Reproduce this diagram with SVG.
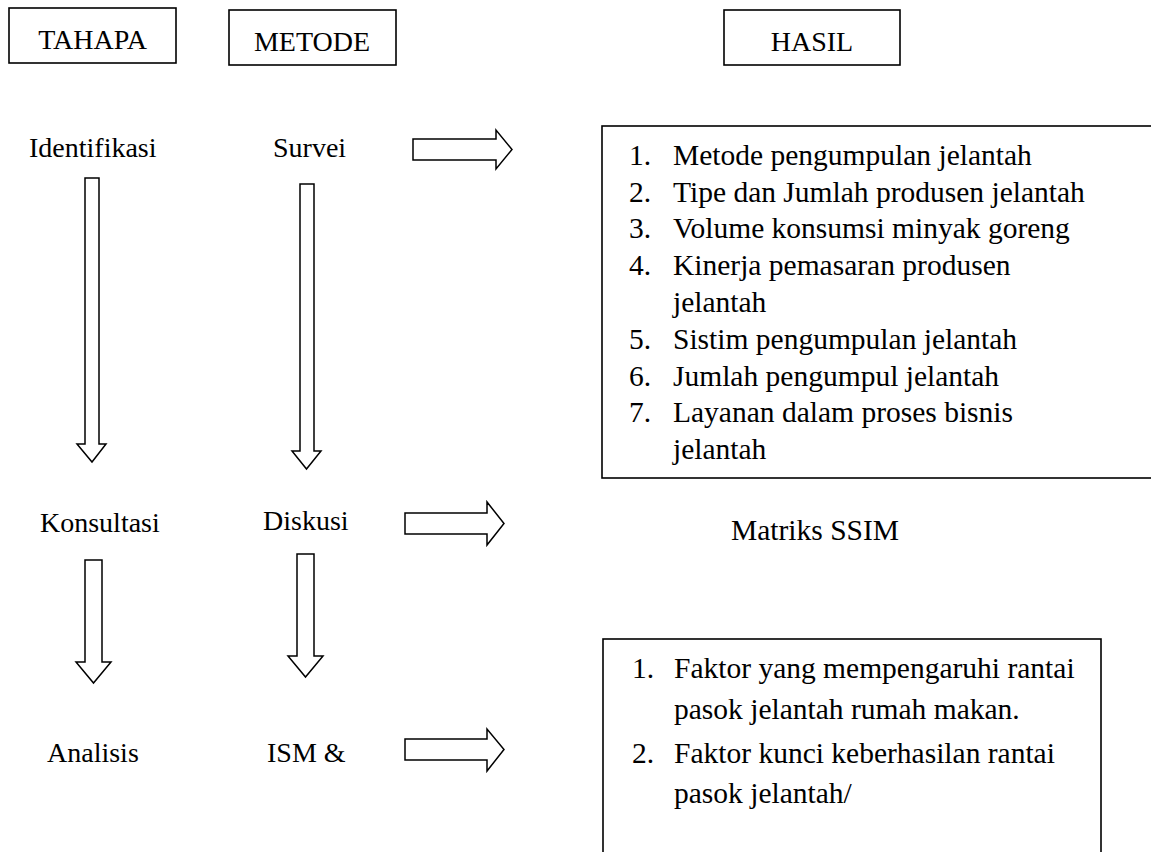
<svg xmlns="http://www.w3.org/2000/svg" width="1151" height="852" viewBox="0 0 1151 852">
<style>
text{font-family:"Liberation Serif","Times New Roman",serif;fill:#000}
.h{font-size:28px}
.l{font-size:28px}
.t{font-size:29.5px}
.box{fill:#fff;stroke:#000;stroke-width:1.6}
.arr{fill:#fff;stroke:#000;stroke-width:1.5;stroke-linejoin:miter}
</style>
<rect width="1151" height="852" fill="#fff"/>
<g id="tahapa"><rect class="box" x="9" y="8" width="167" height="55"/><text class="h" x="92.5" y="49" text-anchor="middle">TAHAPA</text></g>
<g id="metode"><rect class="box" x="229" y="10" width="167" height="55"/><text class="h" x="312" y="51" text-anchor="middle">METODE</text></g>
<g id="hasil"><rect class="box" x="724" y="10" width="176" height="55"/><text class="h" x="812" y="51" text-anchor="middle">HASIL</text></g>

<g id="identifikasi"><text class="l" x="29" y="157">Identifikasi</text></g>
<g id="survei"><text class="l" x="273" y="157">Survei</text></g>
<g id="konsultasi"><text class="l" x="40" y="532">Konsultasi</text></g>
<g id="diskusi"><text class="l" x="263" y="530">Diskusi</text></g>
<g id="analisis"><text class="l" x="47" y="762">Analisis</text></g>
<g id="ism"><text class="l" x="267" y="762">ISM &amp;</text></g>
<g id="matriks"><text class="t" x="731" y="540" font-size="29">Matriks SSIM</text></g>

<g id="hasil1">
<rect class="box" x="602" y="126" width="600" height="352"/>
<text class="t"><tspan x="629" y="165">1.</tspan><tspan x="673" y="165">Metode pengumpulan jelantah</tspan>
<tspan x="629" y="202">2.</tspan><tspan x="673" y="202">Tipe dan Jumlah produsen jelantah</tspan>
<tspan x="629" y="238">3.</tspan><tspan x="673" y="238">Volume konsumsi minyak goreng</tspan>
<tspan x="629" y="275">4.</tspan><tspan x="673" y="275">Kinerja pemasaran produsen</tspan>
<tspan x="673" y="312">jelantah</tspan>
<tspan x="629" y="349">5.</tspan><tspan x="673" y="349">Sistim pengumpulan jelantah</tspan>
<tspan x="629" y="386">6.</tspan><tspan x="673" y="386">Jumlah pengumpul jelantah</tspan>
<tspan x="629" y="422">7.</tspan><tspan x="673" y="422">Layanan dalam proses bisnis</tspan>
<tspan x="673" y="459">jelantah</tspan></text>
</g>

<g id="hasil3">
<rect class="box" x="603" y="639" width="498" height="260"/>
<text class="t"><tspan x="632" y="678">1.</tspan><tspan x="674" y="678">Faktor yang mempengaruhi rantai</tspan>
<tspan x="674" y="719">pasok jelantah rumah makan.</tspan>
<tspan x="632" y="763">2.</tspan><tspan x="674" y="763">Faktor kunci keberhasilan rantai</tspan>
<tspan x="674" y="803">pasok jelantah/</tspan></text>
</g>

<g id="connectors">
<path class="arr" d="M85,178 H99 V444 H106 L92,462 L77,444 H85 Z"/>
<path class="arr" d="M300,184 H314 V451 H321 L306.5,469 L292,451 H300 Z"/>
<path class="arr" d="M85,560 H102 V662 H111 L93.5,683 L76,662 H85 Z"/>
<path class="arr" d="M297,554 H314 V656 H323 L305.5,677 L288,656 H297 Z"/>
<path class="arr" d="M413,139 H496 V130 L512,149.5 L496,169 V160 H413 Z"/>
<path class="arr" d="M405,513 H487 V502 L504,523.5 L487,545 V534 H405 Z"/>
<path class="arr" d="M405,739 H487 V729 L504,749.5 L487,771 V760 H405 Z"/>
</g>
</svg>
